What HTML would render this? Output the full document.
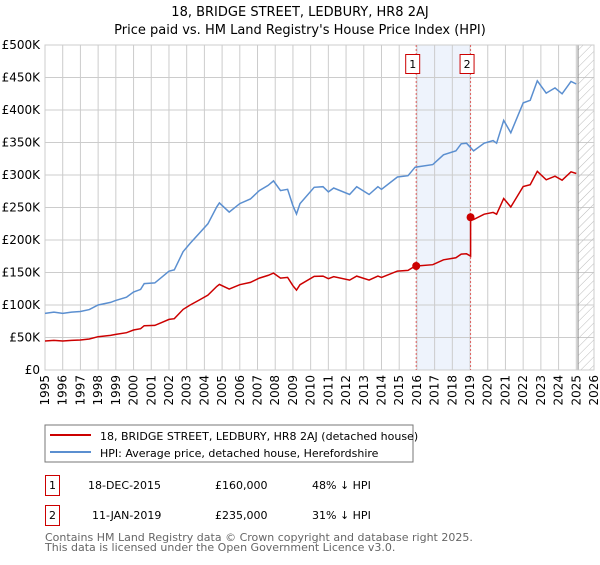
<!DOCTYPE html>
<html><head><meta charset="utf-8"><style>
body{margin:0;background:#fff;font-family:"Liberation Sans","DejaVu Sans",sans-serif;}
svg text{font-family:"DejaVu Sans","Liberation Sans",sans-serif;}
</style></head><body>
<svg id="c" width="600" height="560" viewBox="0 0 600 560" xmlns="http://www.w3.org/2000/svg">
<defs><pattern id="hatch" width="6" height="6" patternUnits="userSpaceOnUse" patternTransform="rotate(45)"><line x1="0" y1="0" x2="0" y2="6" stroke="#bbb" stroke-width="1"/></pattern></defs>
<text x="300" y="16" text-anchor="middle" font-size="13" fill="#000">18, BRIDGE STREET, LEDBURY, HR8 2AJ</text>
<text x="300" y="34" text-anchor="middle" font-size="13" fill="#000">Price paid vs. HM Land Registry's House Price Index (HPI)</text>
<g id="grid"></g><g id="marks"></g><g id="axes"></g>
<rect x="45" y="425" width="368" height="37" fill="#fff" stroke="#777"/>
<line x1="50" y1="435" x2="91" y2="435" stroke="#cc0000" stroke-width="2"/>
<text x="100" y="440" font-size="11">18, BRIDGE STREET, LEDBURY, HR8 2AJ (detached house)</text>
<line x1="50" y1="452" x2="91" y2="452" stroke="#5b8fd0" stroke-width="2"/>
<text x="100" y="457" font-size="11">HPI: Average price, detached house, Herefordshire</text>
<g>
<rect x="45.5" y="475.5" width="14" height="20" fill="#fff" stroke="#cc0000"/>
<text x="52.5" y="489" text-anchor="middle" font-size="11">1</text>
<text x="88" y="489" font-size="11">18-DEC-2015</text>
<text x="215" y="489" font-size="11">£160,000</text>
<text x="312" y="489" font-size="11">48% ↓ HPI</text></g>
<g>
<rect x="45.5" y="505.5" width="14" height="20" fill="#fff" stroke="#cc0000"/>
<text x="52.5" y="519" text-anchor="middle" font-size="11">2</text>
<text x="92" y="519" font-size="11">11-JAN-2019</text>
<text x="215" y="519" font-size="11">£235,000</text>
<text x="312" y="519" font-size="11">31% ↓ HPI</text></g>
<text x="45" y="541" font-size="11" fill="#666">Contains HM Land Registry data © Crown copyright and database right 2025.</text>
<text x="45" y="551" font-size="11" fill="#666">This data is licensed under the Open Government Licence v3.0.</text>
</svg>
<script>
const years=[1995,1995.5,1996,1996.5,1997,1997.5,1998,1998.7,1999,1999.6,2000,2000.4,2000.6,2001.2,2001.6,2002,2002.3,2002.8,2003.2,2003.7,2004.2,2004.7,2004.85,2005.4,2006,2006.6,2007.1,2007.6,2007.9,2008.3,2008.7,2009,2009.2,2009.4,2010.2,2010.7,2011,2011.3,2012.2,2012.6,2013.3,2013.8,2014,2014.9,2015.5,2015.9,2016.9,2017.5,2018.2,2018.5,2018.8,2019.2,2019.8,2020.3,2020.5,2020.9,2021.3,2022,2022.4,2022.8,2023.3,2023.8,2024.2,2024.7,2025.0];
const hpi=[87,89,87,89,90,93,100,104,107,112,120,124,133,134,143,152,154,182,195,210,225,251,257,243,256,263,276,284,291,276,278,253,240,256,281,282,274,280,270,282,270,282,278,297,299,312,316,331,337,348,349,337,349,353,349,384,365,411,415,445,426,434,425,444,440];
const saleYears=[2015.96,2019.03];
const salePrices=[160,235];
const yTicks=[0,50,100,150,200,250,300,350,400,450,500];
const yLabels=["£0","£50K","£100K","£150K","£200K","£250K","£300K","£350K","£400K","£450K","£500K"];
const xTicks=[1995,1996,1997,1998,1999,2000,2001,2002,2003,2004,2005,2006,2007,2008,2009,2010,2011,2012,2013,2014,2015,2016,2017,2018,2019,2020,2021,2022,2023,2024,2025,2026];
const NS="http://www.w3.org/2000/svg";
const X0=45,X1=594,Y0=370,Y1=45;
const xs=y=>X0+(y-1995)/(2026-1995)*(X1-X0);
const ys=v=>Y0-v/500*(Y0-Y1);
function mk(p,t,a){const e=document.createElementNS(NS,t);for(const k in a)e.setAttribute(k,a[k]);p.appendChild(e);return e;}
const grid=document.getElementById('grid'),marks=document.getElementById('marks'),axes=document.getElementById('axes');
const band=mk(grid,'rect',{x:xs(saleYears[0]),y:Y1,width:xs(saleYears[1])-xs(saleYears[0]),height:Y0-Y1,fill:'#eef3fc'});


yTicks.forEach((v,i)=>{
 mk(grid,'line',{x1:X0,x2:X1,y1:ys(v),y2:ys(v),stroke:'#ccc'});
 const t=mk(axes,'text',{x:40,y:ys(v)+4,'text-anchor':'end','font-size':12});t.textContent=yLabels[i];
 
 
});
xTicks.forEach(y=>{
 mk(grid,'line',{x1:xs(y),x2:xs(y),y1:Y1,y2:Y0,stroke:'#ccc'});
 const t=mk(axes,'text',{x:0,y:0,'font-size':12,'text-anchor':'end',transform:`translate(${xs(y)+4},375) rotate(-90)`});t.textContent=y;
 
 
});
const lastY=years[years.length-1]+0.1;
const h=mk(grid,'rect',{x:xs(lastY),y:Y1,width:X1-xs(lastY),height:Y0-Y1,fill:'url(#hatch)'});


mk(grid,'line',{x1:xs(lastY),x2:xs(lastY),y1:Y1,y2:Y0,stroke:'#888','stroke-width':1});
mk(grid,'rect',{x:X0,y:Y1,width:X1-X0,height:Y0-Y1,fill:'none',stroke:'#ccc'});
saleYears.forEach((sy,i)=>{
 mk(marks,'line',{x1:xs(sy),x2:xs(sy),y1:Y1,y2:Y0,stroke:'#e06060','stroke-dasharray':'2,2'});
 const g=mk(axes,'g',{});
 
 
 mk(g,'rect',{x:xs(sy)-10.5,y:54.5,width:14,height:19,fill:'#fff',stroke:'#cc0000'});
 const t=mk(g,'text',{x:xs(sy)-3.5,y:68,'text-anchor':'middle','font-size':11});t.textContent=i+1;
});
let d='';years.forEach((y,i)=>{d+=(i?'L':'M')+xs(y).toFixed(1)+','+ys(hpi[i]).toFixed(1);});
const hl=mk(marks,'path',{d:d,fill:'none',stroke:'#5b8fd0','stroke-width':1.5});


function hpiAt(t){for(let i=1;i<years.length;i++){if(t<=years[i]){const f=(t-years[i-1])/(years[i]-years[i-1]);return hpi[i-1]+f*(hpi[i]-hpi[i-1]);}}return hpi[hpi.length-1];}
const r0=salePrices[0]/hpiAt(saleYears[0]),r1=salePrices[1]/hpiAt(saleYears[1]);
let pts=[];
years.forEach((y,i)=>{if(y<saleYears[1])pts.push([y,hpi[i]*r0]);});
pts.push([saleYears[1],hpiAt(saleYears[1])*r0]);
pts.push([saleYears[1],salePrices[1]]);
years.forEach((y,i)=>{if(y>saleYears[1])pts.push([y,hpi[i]*r1]);});
let d2='';pts.forEach((p,i)=>{d2+=(i?'L':'M')+xs(p[0]).toFixed(1)+','+ys(p[1]).toFixed(1);});
const pl=mk(marks,'path',{d:d2,fill:'none',stroke:'#cc0000','stroke-width':1.5});


saleYears.forEach((sy,i)=>{
 const c=mk(marks,'circle',{cx:xs(sy),cy:ys(salePrices[i]),r:4,fill:'#cc0000'});
 
 
});
</script>
</body></html>
